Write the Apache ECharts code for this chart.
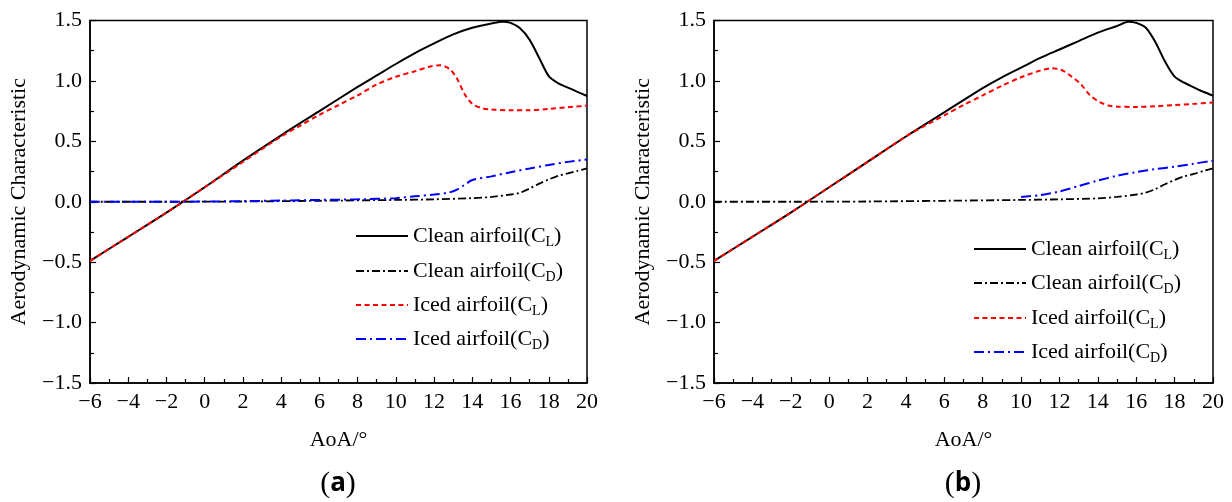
<!DOCTYPE html>
<html>
<head>
<meta charset="utf-8">
<script src="https://cdn.jsdelivr.net/npm/echarts@6/dist/echarts.min.js"></script>
<style>html,body{margin:0;padding:0;background:#fff}#c{width:1232px;height:502px}</style>
</head>
<body>
<div id="c"></div>
<script>
// ---------- Data ----------
const xTicks = [-6,-4,-2,0,2,4,6,8,10,12,14,16,18,20];
const yTicks = [-1.5,-1.0,-0.5,0.0,0.5,1.0,1.5];
const seriesNames = ['Clean airfoil(C_L)','Clean airfoil(C_D)','Iced airfoil(C_L)','Iced airfoil(C_D)'];

// Panel (a)
const aCleanCL_aoa = [-6,-4,-2,0,2,4,6,8,9,10,11,12,13,14,15,15.6,16,16.5,17,17.5,18,18.5,19,19.5,20];
const aCleanCL     = [-0.49,-0.29,-0.09,0.12,0.34,0.55,0.75,0.95,1.045,1.14,1.23,1.31,1.385,1.44,1.475,1.49,1.48,1.435,1.34,1.19,1.04,0.98,0.945,0.91,0.875];
const aCleanCD_aoa = [-6,-2,2,6,10,12,14,15,16,16.5,17,17.5,18,18.5,19,19.5,20];
const aCleanCD     = [0,0,0.002,0.008,0.015,0.02,0.03,0.04,0.06,0.075,0.11,0.15,0.185,0.215,0.235,0.255,0.277];
const aIcedCL_aoa  = [-6,-4,-2,0,2,4,5,6,7,8,9,10,11,11.8,12.3,12.8,13.2,13.6,14,14.5,15,16,17,18,19,20];
const aIcedCL      = [-0.49,-0.29,-0.09,0.12,0.33,0.54,0.63,0.72,0.80,0.88,0.97,1.035,1.08,1.12,1.13,1.10,1.02,0.89,0.81,0.775,0.763,0.757,0.758,0.768,0.782,0.795];
const aIcedCD_aoa  = [-6,-2,0,2,4,6,8,10,11,12,12.8,13.2,13.6,14,15,16,17,18,19,20];
const aIcedCD      = [0,0,0.002,0.005,0.01,0.015,0.02,0.03,0.045,0.06,0.077,0.1,0.14,0.18,0.21,0.245,0.275,0.305,0.33,0.35];

// Panel (b)
const bCleanCL_aoa = [-6,-4,-2,0,2,4,6,8,9,10,11,12,13,14,15,15.6,16,16.5,17,17.5,18,18.5,19,19.5,20];
const bCleanCL     = [-0.49,-0.29,-0.09,0.12,0.33,0.54,0.74,0.94,1.03,1.11,1.19,1.26,1.33,1.40,1.455,1.49,1.48,1.44,1.32,1.16,1.035,0.985,0.947,0.91,0.878];
const bCleanCD_aoa = [-6,-2,2,6,10,12,14,15,16,16.5,17,17.5,18,18.5,19,19.5,20];
const bCleanCD     = [0,0,0.002,0.008,0.015,0.02,0.028,0.04,0.06,0.075,0.105,0.145,0.18,0.21,0.23,0.255,0.277];
const bIcedCL_aoa  = [-6,-4,-2,0,2,4,5,6,7,8,9,10,11,11.6,12.1,12.6,13.1,13.6,14.1,14.6,15,16,17,18,19,20];
const bIcedCL      = [-0.49,-0.29,-0.09,0.12,0.33,0.54,0.63,0.715,0.80,0.88,0.96,1.03,1.085,1.105,1.09,1.04,0.975,0.88,0.825,0.795,0.787,0.785,0.79,0.80,0.81,0.822];
const bIcedCD_aoa  = [10,11,12,13,14,15,16,17,18,19,20];
const bIcedCD      = [0.04,0.055,0.085,0.13,0.175,0.215,0.245,0.27,0.29,0.315,0.34];

// ---------- Chart ----------
const FONT = '"Liberation Serif", "Times New Roman", serif';
const zip = (xs, ys) => xs.map((x, i) => [x, ys[i]]);
const minus = s => String(s).replace('-', '\u2212');

const styles = [
  {color:'#000000', width:2, type:'solid'},
  {color:'#000000', width:1.8, type:[8,3,2,3]},
  {color:'#ff0000', width:2, type:[5,3.5]},
  {color:'#0000ff', width:2, type:[10,4,2,4]}
];

const grids = [
  {left:90, top:20.5, width:497, height:362.5, show:true, borderColor:'#000', borderWidth:1.5},
  {left:714, top:20.5, width:499, height:362.5, show:true, borderColor:'#000', borderWidth:1.5}
];

function xAxis(gi){
  return {
    type:'value', gridIndex:gi, min:xTicks[0], max:xTicks[xTicks.length-1], interval:2,
    name:'AoA/\u00b0', nameLocation:'middle', nameGap:46,
    nameTextStyle:{fontFamily:FONT, fontSize:22, color:'#000'},
    axisLine:{show:true, onZero:false, lineStyle:{color:'#000', width:1.5}},
    axisTick:{show:true, inside:true, length:6, lineStyle:{color:'#000', width:1.2}},
    minorTick:{show:true, splitNumber:2, length:4, lineStyle:{color:'#000', width:1.2}},
    splitLine:{show:false},
    axisLabel:{fontFamily:FONT, fontSize:22, color:'#000', margin:8, formatter:v=>minus(v)}
  };
}
function yAxis(gi){
  return {
    type:'value', gridIndex:gi, min:yTicks[0], max:yTicks[yTicks.length-1], interval:0.5,
    name:'Aerodynamic Characteristic', nameLocation:'middle', nameGap:60,
    nameTextStyle:{fontFamily:FONT, fontSize:22, color:'#000'},
    axisLine:{show:true, onZero:false, lineStyle:{color:'#000', width:1.5}},
    axisTick:{show:true, inside:true, length:6, lineStyle:{color:'#000', width:1.2}},
    minorTick:{show:true, splitNumber:2, length:4, lineStyle:{color:'#000', width:1.2}},
    splitLine:{show:false},
    axisLabel:{fontFamily:FONT, fontSize:22, color:'#000', margin:8, formatter:v=>minus(v.toFixed(1))}
  };
}

function mkSeries(gi, sets){
  return sets.map((d, i) => ({
    name: seriesNames[i], type:'line', xAxisIndex:gi, yAxisIndex:gi,
    data: zip(d[0], d[1]), smooth:0.3, showSymbol:false, symbol:'none',
    lineStyle: styles[i], itemStyle:{color:styles[i].color},
    animation:false, clip:true
  }));
}

const series = [].concat(
  mkSeries(0, [[aCleanCL_aoa,aCleanCL],[aCleanCD_aoa,aCleanCD],[aIcedCL_aoa,aIcedCL],[aIcedCD_aoa,aIcedCD]]),
  mkSeries(1, [[bCleanCL_aoa,bCleanCL],[bCleanCD_aoa,bCleanCD],[bIcedCL_aoa,bIcedCL],[bIcedCD_aoa,bIcedCD]])
);

const rich = {
  t:{fontFamily:FONT, fontSize:22, color:'#000', lineHeight:26},
  s:{fontFamily:FONT, fontSize:14, color:'#000', lineHeight:14, padding:[12,0,0,0], verticalAlign:'bottom'}
};
function legendFmt(name){
  const m = name.match(/^(.*)\(C_(.)\)$/);
  return '{t|' + m[1] + '(C}{s|' + m[2] + '}{t|)}';
}
const legendRowsA = [236, 271, 305, 339];
const legendRowsB = [249, 283, 318, 352];
const legends = [];
[[355, legendRowsA],[973, legendRowsB]].forEach(([lx, rows]) => {
  rows.forEach((cy, i) => {
    legends.push({
      data:[seriesNames[i]], left:lx, top:cy-13, padding:0, orient:'vertical',
      itemWidth:52, itemHeight:14, itemGap:6, selectedMode:false,
      itemStyle:{color:'rgba(0,0,0,0)', borderColor:'rgba(0,0,0,0)', borderWidth:0, opacity:0},
      formatter:legendFmt, textStyle:{rich:rich, fontFamily:FONT, fontSize:22, color:'#000'}
    });
  });
});

const capRich = {
  p:{fontFamily:FONT, fontSize:30, color:'#000'},
  b:{fontFamily:'Open Sans', fontWeight:'bold', fontSize:26, color:'#000'}
};

const option = {
  animation:false,
  backgroundColor:'#fff',
  textStyle:{fontFamily:FONT},
  grid: grids,
  xAxis: [xAxis(0), xAxis(1)],
  yAxis: [yAxis(0), yAxis(1)],
  legend: legends,
  series: series,
  graphic: [
    {type:'text', x:338, y:484, style:{text:'{p|(}{b|a}{p|)}', rich:capRich, align:'center', verticalAlign:'middle'}},
    {type:'text', x:963, y:484, style:{text:'{p|(}{b|b}{p|)}', rich:capRich, align:'center', verticalAlign:'middle'}}
  ]
};

const chart = echarts.init(document.getElementById('c'), null, {renderer:'canvas'});
chart.setOption(option);
</script>
</body>
</html>
